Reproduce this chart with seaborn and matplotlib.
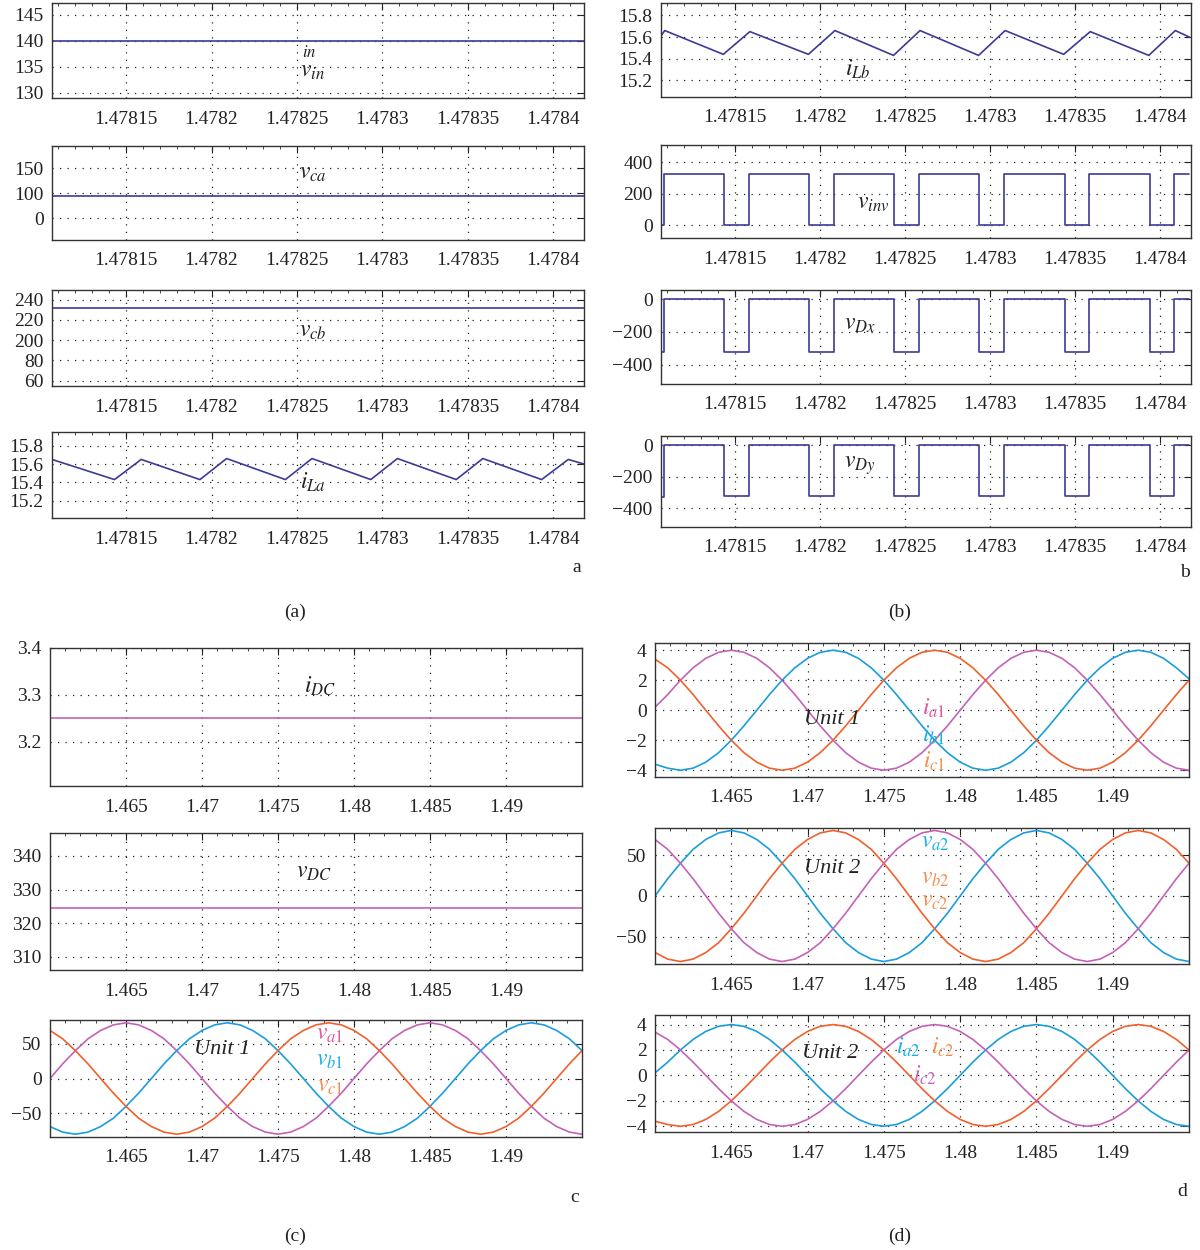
import matplotlib
matplotlib.use("Agg")
import matplotlib.pyplot as plt
import seaborn as sns
from matplotlib.ticker import AutoMinorLocator

sns.set_style("white")
plt.rcParams['font.family'] = ['Liberation Serif', 'DejaVu Serif']
plt.rcParams['mathtext.fontset'] = 'stix'

# ---------------- data: panel (a)/(b) ----------------
t_flat = [1.4781066, 1.478418]
v_in = [140, 140]
v_ca = [87, 87]
v_cb = [231.6, 231.6]

t_iLa = [1.4781066, 1.4781432, 1.4781588, 1.4781932, 1.4782088, 1.4782432, 1.4782588,
         1.4782932, 1.4783088, 1.4783432, 1.4783588, 1.4783932, 1.4784088, 1.478418]
i_La = [15.65, 15.43, 15.65, 15.43, 15.66, 15.43, 15.66,
        15.43, 15.66, 15.43, 15.66, 15.43, 15.65, 15.60]

t_iLb = [1.4781061, 1.4781088, 1.4781432, 1.4781588, 1.4781932, 1.4782088, 1.4782432, 1.4782588,
         1.4782932, 1.4783088, 1.4783432, 1.4783588, 1.4783932, 1.4784088, 1.478417]
i_Lb = [15.60, 15.66, 15.44, 15.65, 15.44, 15.66, 15.43, 15.66,
        15.43, 15.66, 15.44, 15.65, 15.43, 15.66, 15.60]

t_sq = [1.4781061, 1.4781083, 1.4781083, 1.4781437, 1.4781437, 1.4781583, 1.4781583,
        1.4781937, 1.4781937, 1.4782083, 1.4782083, 1.4782437, 1.4782437, 1.4782583, 1.4782583,
        1.4782937, 1.4782937, 1.4783083, 1.4783083, 1.4783437, 1.4783437, 1.4783583, 1.4783583,
        1.4783937, 1.4783937, 1.4784083, 1.4784083, 1.478417]
v_inv = [0, 0, 322, 322, 0, 0, 322,
         322, 0, 0, 322, 322, 0, 0, 322,
         322, 0, 0, 322, 322, 0, 0, 322,
         322, 0, 0, 322, 322]
v_Dx = [-322, -322, 0, 0, -322, -322, 0,
        0, -322, -322, 0, 0, -322, -322, 0,
        0, -322, -322, 0, 0, -322, -322, 0,
        0, -322, -322, 0, 0]
v_Dy = [-325, -325, 0, 0, -322, -322, 0,
        0, -322, -322, 0, 0, -322, -322, 0,
        0, -322, -322, 0, 0, -322, -322, 0,
        0, -322, -322, 0, 0]

# ---------------- data: panel (c)/(d) ----------------
t_dc = [1.460, 1.495]
i_DC = [3.25, 3.25]
v_DC = [324.5, 324.5]

t_ac = [1.46000, 1.46083, 1.46167, 1.46250, 1.46333, 1.46417, 1.46500, 1.46583, 1.46667, 1.46750,
        1.46833, 1.46917, 1.47000, 1.47083, 1.47167, 1.47250, 1.47333, 1.47417, 1.47500, 1.47583,
        1.47667, 1.47750, 1.47833, 1.47917, 1.48000, 1.48083, 1.48167, 1.48250, 1.48333, 1.48417,
        1.48500, 1.48583, 1.48667, 1.48750, 1.48833, 1.48917, 1.49000, 1.49083, 1.49167, 1.49250,
        1.49333, 1.49417, 1.49500]

v_a1 = [0, 21, 40, 57, 69, 77, 80, 77, 69, 57, 40, 21, 0, -21, -40, -57, -69, -77, -80, -77, -69, -57, -40, -21,
        0, 21, 40, 57, 69, 77, 80, 77, 69, 57, 40, 21, 0, -21, -40, -57, -69, -77, -80]
v_b1 = [-69, -77, -80, -77, -69, -57, -40, -21, 0, 21, 40, 57, 69, 77, 80, 77, 69, 57, 40, 21, 0, -21, -40, -57,
        -69, -77, -80, -77, -69, -57, -40, -21, 0, 21, 40, 57, 69, 77, 80, 77, 69, 57, 40]
v_c1 = [69, 57, 40, 21, 0, -21, -40, -57, -69, -77, -80, -77, -69, -57, -40, -21, 0, 21, 40, 57, 69, 77, 80, 77,
        69, 57, 40, 21, 0, -21, -40, -57, -69, -77, -80, -77, -69, -57, -40, -21, 0, 21, 40]

i_a1 = [0.2, 1.04, 2, 2.83, 3.46, 3.86, 4, 3.86, 3.46, 2.83, 2, 1.04, 0, -1.04, -2, -2.83, -3.46, -3.86, -4, -3.86,
        -3.46, -2.83, -2, -1.04, 0, 1.04, 2, 2.83, 3.46, 3.86, 4, 3.86, 3.46, 2.83, 2, 1.04, 0, -1.04, -2, -2.83,
        -3.46, -3.86, -4]
i_b1 = [-3.6, -3.86, -4, -3.86, -3.46, -2.83, -2, -1.04, 0, 1.04, 2, 2.83, 3.46, 3.86, 4, 3.86, 3.46, 2.83, 2, 1.04,
        0, -1.04, -2, -2.83, -3.46, -3.86, -4, -3.86, -3.46, -2.83, -2, -1.04, 0, 1.04, 2, 2.83, 3.46, 3.86, 4, 3.86,
        3.46, 2.83, 2.1]
i_c1 = [3.4, 2.83, 2, 1.04, 0, -1.04, -2, -2.83, -3.46, -3.86, -4, -3.86, -3.46, -2.83, -2, -1.04, 0, 1.04, 2, 2.83,
        3.46, 3.86, 4, 3.86, 3.46, 2.83, 2, 1.04, 0, -1.04, -2, -2.83, -3.46, -3.86, -4, -3.86, -3.46, -2.83, -2,
        -1.04, 0, 1.04, 2]

v_a2 = [0, 21, 40, 57, 69, 77, 80, 77, 69, 57, 40, 21, 0, -21, -40, -57, -69, -77, -80, -77, -69, -57, -40, -21,
        0, 21, 40, 57, 69, 77, 80, 77, 69, 57, 40, 21, 0, -21, -40, -57, -69, -77, -80]
v_b2 = [-69, -77, -80, -77, -69, -57, -40, -21, 0, 21, 40, 57, 69, 77, 80, 77, 69, 57, 40, 21, 0, -21, -40, -57,
        -69, -77, -80, -77, -69, -57, -40, -21, 0, 21, 40, 57, 69, 77, 80, 77, 69, 57, 40]
v_c2 = [69, 57, 40, 21, 0, -21, -40, -57, -69, -77, -80, -77, -69, -57, -40, -21, 0, 21, 40, 57, 69, 77, 80, 77,
        69, 57, 40, 21, 0, -21, -40, -57, -69, -77, -80, -77, -69, -57, -40, -21, 0, 21, 40]

i_a2 = [0.2, 1.04, 2, 2.83, 3.46, 3.86, 4, 3.86, 3.46, 2.83, 2, 1.04, 0, -1.04, -2, -2.83, -3.46, -3.86, -4, -3.86,
        -3.46, -2.83, -2, -1.04, 0, 1.04, 2, 2.83, 3.46, 3.86, 4, 3.86, 3.46, 2.83, 2, 1.04, 0, -1.04, -2, -2.83,
        -3.46, -3.86, -4]
i_b2 = [-3.6, -3.86, -4, -3.86, -3.46, -2.83, -2, -1.04, 0, 1.04, 2, 2.83, 3.46, 3.86, 4, 3.86, 3.46, 2.83, 2, 1.04,
        0, -1.04, -2, -2.83, -3.46, -3.86, -4, -3.86, -3.46, -2.83, -2, -1.04, 0, 1.04, 2, 2.83, 3.46, 3.86, 4, 3.86,
        3.46, 2.83, 2]
i_c2 = [3.4, 2.83, 2, 1.04, 0, -1.04, -2, -2.83, -3.46, -3.86, -4, -3.86, -3.46, -2.83, -2, -1.04, 0, 1.04, 2, 2.83,
        3.46, 3.86, 4, 3.86, 3.46, 2.83, 2, 1.04, 0, -1.04, -2, -2.83, -3.46, -3.86, -4, -3.86, -3.46, -2.83, -2,
        -1.04, 0, 1.04, 2]

xt_top = [1.47815, 1.4782, 1.47825, 1.4783, 1.47835, 1.4784]
xt_top_lab = ["1.47815", "1.4782", "1.47825", "1.4783", "1.47835", "1.4784"]
xt_bot = [1.465, 1.47, 1.475, 1.48, 1.485, 1.49]
xt_bot_lab = ["1.465", "1.47", "1.475", "1.48", "1.485", "1.49"]

# ---------------- styling ----------------
NAVY = "#3d3a98"
PINK = "#c462b6"
BLUE = "#1a9edb"
ORANGE = "#f1602b"
LPINK = "#e2579c"
LBLUE = "#19b0e6"
LORANGE = "#f38e4a"

W, H = 1200, 1250
fig = plt.figure(figsize=(12, 12.5), dpi=100)


def make_ax(x0, y0, x1, y1):
    return fig.add_axes([x0 / W, 1 - y1 / H, (x1 - x0) / W, (y1 - y0) / H])


def style(ax, xlim, ylim, xt, xtl, yt, ytl):
    ax.set_xlim(*xlim)
    ax.set_ylim(*ylim)
    ax.set_xticks(xt)
    ax.set_xticklabels(xtl)
    ax.set_yticks(yt)
    ax.set_yticklabels(ytl)
    ax.xaxis.set_minor_locator(AutoMinorLocator(5))
    ax.grid(True, which='major', linestyle=(0, (1, 5)), color='#222222', linewidth=0.9)
    ax.tick_params(which='major', direction='in', top=True, right=True, length=5,
                   labelsize=14, colors='#222222', pad=6)
    ax.tick_params(axis='x', which='major', pad=9)
    ax.tick_params(which='minor', direction='in', top=True, bottom=False, length=2.5)
    for s in ax.spines.values():
        s.set_linewidth(1.0)
        s.set_color('#333333')
    ax.set_xlabel('')
    ax.set_ylabel('')


def line(ax, x, y, color, lw=1.2):
    sns.lineplot(x=x, y=y, ax=ax, color=color, linewidth=lw, estimator=None, sort=False)


def lab(ax, fx, fy, s, color='#222222', size=17, va='center'):
    ax.text(fx, fy, s, transform=ax.transAxes, color=color, fontsize=size, ha='center', va=va)


def unit(ax, fx, fy, s):
    ax.text(fx, fy, s, transform=ax.transAxes, fontsize=16, style='italic',
            ha='center', va='center', color='#222222')


xlim_top = (1.4781066, 1.478418)
xlim_bot = (1.460, 1.495)

# ---- (a) ----
ax = make_ax(52, 3, 584, 98)
line(ax, t_flat, v_in, NAVY)
style(ax, xlim_top, (129, 147.3), xt_top, xt_top_lab, [130, 135, 140, 145], ['130', '135', '140', '145'])
lab(ax, 0.484, 0.385, r'$in$', size=12, va='bottom')
lab(ax, 0.49, 0.385, r'$v_{in}$', va='top')

ax = make_ax(52, 146, 584, 240)
line(ax, t_flat, v_ca, NAVY)
style(ax, xlim_top, (-87, 289), xt_top, xt_top_lab, [0, 100, 200], ['0', '100', '150'])
lab(ax, 0.49, 0.71, r'$v_{ca}$')

ax = make_ax(52, 290, 584, 386)
line(ax, t_flat, v_cb, NAVY)
style(ax, xlim_top, (154.6, 249.5), xt_top, xt_top_lab, [160, 180, 200, 220, 240],
      ['60', '80', '200', '220', '240'])
lab(ax, 0.49, 0.57, r'$v_{cb}$')

ax = make_ax(52, 432, 584, 518)
line(ax, t_iLa, i_La, NAVY)
style(ax, xlim_top, (15.01, 15.95), xt_top, xt_top_lab, [15.2, 15.4, 15.6, 15.8],
      ['15.2', '15.4', '15.6', '15.8'])
lab(ax, 0.49, 0.42, r'$i_{La}$')

# ---- (b) ----
ax = make_ax(661, 3, 1191, 97)
line(ax, t_iLb, i_Lb, NAVY)
style(ax, xlim_top, (15.045, 15.915), xt_top, xt_top_lab, [15.2, 15.4, 15.6, 15.8],
      ['15.2', '15.4', '15.6', '15.8'])
lab(ax, 0.372, 0.29, r'$i_{Lb}$')

ax = make_ax(661, 145, 1191, 238)
line(ax, t_sq, v_inv, NAVY)
style(ax, xlim_top, (-82, 509), xt_top, xt_top_lab, [0, 200, 400], ['0', '200', '400'])
lab(ax, 0.40, 0.37, r'$v_{inv}$')

ax = make_ax(661, 290, 1191, 384)
line(ax, t_sq, v_Dx, NAVY)
style(ax, xlim_top, (-519, 57), xt_top, xt_top_lab, [-400, -200, 0], ['−400', '−200', '0'])
lab(ax, 0.375, 0.63, r'$v_{Dx}$')

ax = make_ax(661, 436, 1191, 527)
line(ax, t_sq, v_Dy, NAVY)
style(ax, xlim_top, (-517, 57), xt_top, xt_top_lab, [-400, -200, 0], ['−400', '−200', '0'])
lab(ax, 0.375, 0.67, r'$v_{Dy}$')

# ---- (c) ----
ax = make_ax(50, 648, 582, 786)
line(ax, t_dc, i_DC, PINK)
style(ax, xlim_bot, (3.105, 3.4), xt_bot, xt_bot_lab, [3.2, 3.3, 3.4], ['3.2', '3.3', '3.4'])
lab(ax, 0.507, 0.72, r'$i_{DC}$')

ax = make_ax(50, 833, 582, 970)
line(ax, t_dc, v_DC, PINK)
style(ax, xlim_bot, (306.1, 346.8), xt_bot, xt_bot_lab, [310, 320, 330, 340], ['310', '320', '330', '340'])
lab(ax, 0.496, 0.715, r'$v_{DC}$')

ax = make_ax(50, 1020, 582, 1137)
line(ax, t_ac, v_a1, PINK)
line(ax, t_ac, v_b1, BLUE)
line(ax, t_ac, v_c1, ORANGE)
style(ax, xlim_bot, (-84, 84), xt_bot, xt_bot_lab, [-50, 0, 50], ['−50', '0', '50'])
unit(ax, 0.323, 0.75, 'Unit 1')
lab(ax, 0.526, 0.88, r'$v_{a\mathit{1}}$', LPINK)
lab(ax, 0.526, 0.65, r'$v_{b\mathit{1}}$', LBLUE)
lab(ax, 0.526, 0.43, r'$v_{c\mathit{1}}$', LORANGE)

# ---- (d) ----
ax = make_ax(655, 643, 1189, 777)
line(ax, t_ac, i_a1, PINK)
line(ax, t_ac, i_b1, BLUE)
line(ax, t_ac, i_c1, ORANGE)
style(ax, xlim_bot, (-4.45, 4.48), xt_bot, xt_bot_lab, [-4, -2, 0, 2, 4], ['−4', '−2', '0', '2', '4'])
unit(ax, 0.331, 0.43, 'Unit 1')
lab(ax, 0.522, 0.515, r'$i_{a\mathit{1}}$', LPINK)
lab(ax, 0.522, 0.31, r'$i_{b\mathit{1}}$', LBLUE)
lab(ax, 0.522, 0.12, r'$i_{c\mathit{1}}$', LORANGE)

ax = make_ax(655, 828, 1189, 964)
line(ax, t_ac, v_a2, BLUE)
line(ax, t_ac, v_b2, ORANGE)
line(ax, t_ac, v_c2, PINK)
style(ax, xlim_bot, (-83, 83), xt_bot, xt_bot_lab, [-50, 0, 50], ['−50', '0', '50'])
unit(ax, 0.331, 0.70, 'Unit 2')
lab(ax, 0.524, 0.89, r'$v_{a\mathit{2}}$', LBLUE)
lab(ax, 0.524, 0.63, r'$v_{b\mathit{2}}$', LORANGE)
lab(ax, 0.524, 0.46, r'$v_{c\mathit{2}}$', LORANGE)

ax = make_ax(655, 1015, 1189, 1132)
line(ax, t_ac, i_a2, BLUE)
line(ax, t_ac, i_b2, ORANGE)
line(ax, t_ac, i_c2, PINK)
style(ax, xlim_bot, (-4.45, 4.75), xt_bot, xt_bot_lab, [-4, -2, 0, 2, 4], ['−4', '−2', '0', '2', '4'])
unit(ax, 0.328, 0.675, 'Unit 2')
lab(ax, 0.475, 0.72, r'$i_{a\mathit{2}}$', LBLUE)
lab(ax, 0.540, 0.72, r'$i_{c\mathit{2}}$', LORANGE)
lab(ax, 0.506, 0.48, r'$i_{c\mathit{2}}$', PINK)

# ---- panel letters ----
for s, x, y in [('a', 577, 568), ('b', 1185, 573), ('c', 575, 1197), ('d', 1182, 1192),
                ('(a)', 295, 612), ('(b)', 900, 612), ('(c)', 295, 1236), ('(d)', 900, 1236)]:
    fig.text(x / W, 1 - y / H, s, fontsize=14, ha='center', va='center', color='#222222')

fig.savefig('out.png', dpi=100)
